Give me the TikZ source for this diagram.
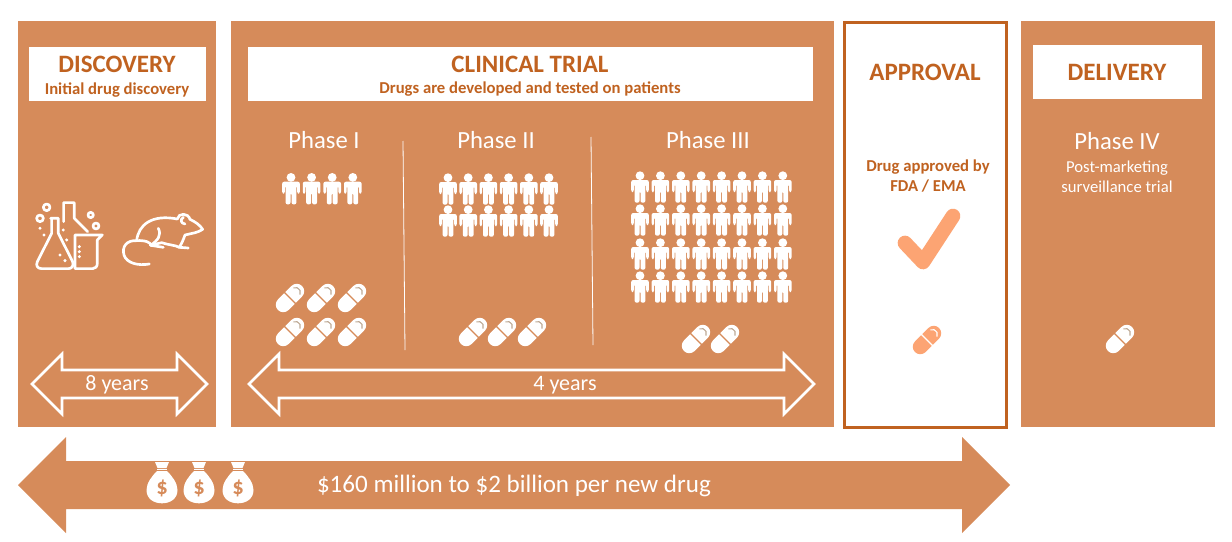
\documentclass[tikz,border=0pt]{standalone}
\usepackage{xcolor}
\usepackage{fontspec}
\setmainfont{Carlito}

\definecolor{panelorange}{RGB}{214,139,90}
\definecolor{darkorange}{RGB}{192,98,32}
\definecolor{lightorange}{RGB}{252,164,115}
\definecolor{pillshade}{RGB}{190,170,150}

\tikzset{
  panel/.style={fill=panelorange,draw=none},
  titlebox/.style={fill=white,draw=none},
  whitearrow/.style={fill=panelorange,draw=white,line width=1.9pt,line join=miter},
  icon/.style={draw=white,line width=2pt,line cap=round,line join=round},
  titletext/.style={inner sep=0.75pt,text=darkorange,font=\fontsize{18.75}{20}\selectfont\bfseries},
  subtitletext/.style={inner sep=0.75pt,text=darkorange,align=center,font=\fontsize{12.5}{15}\selectfont\bfseries},
  phasetext/.style={inner sep=0.75pt,text=white,font=\fontsize{18.5}{20}\selectfont},
  yearstext/.style={inner sep=0.75pt,text=white,font=\fontsize{16.5}{18}\selectfont},
  pics/person/.style={code={
    \begin{scope}[yscale=-1]
    \fill[white] (0,-11.3) circle (4.4);
    \fill[white,rounded corners=1.5] (-8.8,-7) -- (8.8,-7) -- (8.8,5) -- (6.2,5) -- (6.2,-3) -- (5.4,-3) -- (5.4,15.7) -- (0.5,15.7) -- (0.5,4) -- (-0.5,4) -- (-0.5,15.7) -- (-5.4,15.7) -- (-5.4,-3) -- (-6.2,-3) -- (-6.2,5) -- (-8.8,5) -- cycle;
    \end{scope}
  }},
  pics/pill/.style 2 args={code={
    \fill[#1] (-0.8,7.5) -- (-9.5,7.5) arc[start angle=90,end angle=270,radius=7.5] -- (-0.8,-7.5) -- cycle;
    \fill[#1] (0.8,7.5) -- (9.5,7.5) arc[start angle=90,end angle=-90,radius=7.5] -- (0.8,-7.5) -- cycle;
    \draw[#2,line width=0.8pt] (9.5,4.8) arc[start angle=70,end angle=-70,radius=5];
  }},
  pics/moneybag/.style={code={
    \begin{scope}[yscale=-1]
    \fill[white] (-5,-17) .. controls (-10,-12) and (-15.5,-5) .. (-15.5,2) .. controls (-15.5,11) and (-8,15.3) .. (0,15.3) .. controls (8,15.3) and (15.5,11) .. (15.5,2) .. controls (15.5,-5) and (10,-12) .. (5,-17) -- cycle;
    \fill[white] (-7,-26) -- (7,-26) -- (4.5,-20) -- (-4.5,-20) -- cycle;
    \fill[white] (-5,-19) rectangle (5,-17.6);
    \end{scope}
    \draw (0,0) node (-sign) [inner sep=0pt,text=panelorange,font=\fontsize{17}{17}\selectfont\bfseries] {\$};
  }}
}

\begin{document}
\begin{tikzpicture}[x=0.75pt,y=0.75pt,yscale=-1,xscale=1]
\useasboundingbox (0,0) rectangle (1232,542);

%Shape: Rectangle
\draw [panel] (18,21) rectangle (216,427);
%Shape: Rectangle
\draw [panel] (231,21) rectangle (834,427);
%Shape: Rectangle
\draw [fill=white,draw=darkorange,line width=2.2pt] (844.5,22.5) rectangle (1006.5,427.5);
%Shape: Rectangle
\draw [panel] (1021,21) rectangle (1215,427);
%Shape: Rectangle
\draw [titlebox] (29,47) rectangle (206,101);
%Shape: Rectangle
\draw [titlebox] (248,47) rectangle (813,101);
%Shape: Rectangle
\draw [titlebox] (1033,45) rectangle (1202,99);

%Straight Lines
\draw [white,line width=0.6pt] (403,141) -- (405,350);
\draw [white,line width=0.6pt] (591,137) -- (593,345);

%Shape: Left Right Arrow
\draw [whitearrow] (32,384) -- (62,354) -- (62,370) -- (177,370) -- (177,354) -- (207,384) -- (177,414) -- (177,398) -- (62,398) -- (62,414) -- cycle;
%Shape: Left Right Arrow
\draw [whitearrow] (249,384) -- (279,354) -- (279,370) -- (784,370) -- (784,354) -- (814,384) -- (784,414) -- (784,398) -- (279,398) -- (279,414) -- cycle;
%Shape: Left Right Arrow
\draw [panel] (18,485) -- (66,437) -- (66,461) -- (962,461) -- (962,437) -- (1010,485) -- (962,533) -- (962,509) -- (66,509) -- (66,533) -- cycle;

%Flasks
\begin{scope}[shift={(20,190)},scale=0.3333]
\draw [icon] (131,95) -- (131,38) -- (163,38) -- (163,85) -- (203,125);
\draw [icon] (92,85) -- (115,85) -- (115,130) -- (158,215) .. controls (162,228) and (155,236) .. (145,236) -- (65,236) .. controls (52,236) and (47,226) .. (52,215) -- (95,130) -- (95,85);
\draw [icon] (165,135) -- (247,135) -- (232,150) -- (232,220) .. controls (232,230) and (226,236) .. (218,236) -- (165,236) -- (165,135);
\draw [icon] (80,52) circle (10);
\draw [icon] (60,85) circle (10);
\draw [icon] (212,75) circle (8);
\draw [icon] (228,108) circle (9);
\foreach \dotx/\doty in {60/115,72/135,130/120,140/150,120/195,135/212,178/170,178/185,178/200}
  \fill [white] (\dotx,\doty) circle (5);
\end{scope}

%Mouse
\begin{scope}[shift={(20,190)},scale=0.3333]
\draw [icon] (350,152) .. controls (355,105) and (395,72) .. (472,87);
\draw [icon] (472,87) .. controls (475,68) and (505,68) .. (510,88) .. controls (525,95) and (540,105) .. (548,118) .. controls (535,128) and (515,130) .. (495,135) .. controls (490,150) and (485,160) .. (478,172) -- (505,174);
\draw [icon] (490,82) .. controls (480,88) and (482,100) .. (495,102);
\draw [icon] (478,172) .. controls (465,165) and (445,165) .. (425,158) -- (392,166) -- (430,172);
\draw [icon] (415,115) .. controls (425,135) and (415,150) .. (392,166);
\draw [icon] (350,152) .. controls (375,150) and (395,158) .. (392,166);
\draw [icon] (350,152) .. controls (320,150) and (305,170) .. (312,195) .. controls (320,220) and (355,228) .. (388,222);
\end{scope}

%People
\foreach \colx in {0,...,3}
  \pic at (291+20.6*\colx,188.7) {person};
\foreach \rowy in {189,221}
  \foreach \colx in {0,...,5}
    \pic at (448+20.2*\colx,\rowy) {person};
\foreach \rowy in {187,220,254,287}
  \foreach \colx in {0,...,7}
    \pic at (640+20.4*\colx,\rowy) {person};

%Pills
\foreach \rowy in {298,332}
  \foreach \colx in {290,321,352}
    \pic [rotate=45] at (\colx,\rowy) {pill={white}{pillshade}};
\foreach \colx in {473,502,532}
  \pic [rotate=45] at (\colx,332) {pill={white}{pillshade}};
\foreach \colx in {696,725}
  \pic [rotate=45] at (\colx,339) {pill={white}{pillshade}};
\pic [rotate=45] at (927,340) {pill={lightorange}{white}};
\pic [rotate=45] at (1120,339) {pill={white}{pillshade}};

%Check mark
\draw [lightorange,line width=11pt,line join=round,line cap=round] (905,243) -- (923,262) -- (953,216);

%Money bags
\pic (bagone) at (162,488) {moneybag};
\pic (bagtwo) at (199,488) {moneybag};
\pic (bagthree) at (238,488) {moneybag};

% Text Node
\draw (117,64.5) node (discoveryTitle) [titletext] {DISCOVERY};
% Text Node
\draw (117,90.5) node (discoveryText) [subtitletext] {Initial drug discovery};
% Text Node
\draw (530,64.5) node (clinicalTitle) [titletext] {CLINICAL TRIAL};
% Text Node
\draw (530,89.5) node (clinicalText) [subtitletext] {Drugs are developed and tested on patients};
% Text Node
\draw (925,72.5) node (approvalTitle) [titletext] {APPROVAL};
% Text Node
\draw (928,176.5) node (approvalText) [subtitletext] {Drug approved by\\FDA / EMA};
% Text Node
\draw (1117,72.5) node (deliveryTitle) [titletext] {DELIVERY};
% Text Node
\draw (324,140.5) node (phaseOne) [phasetext] {Phase I};
% Text Node
\draw (496,140.5) node (phaseTwo) [phasetext] {Phase II};
% Text Node
\draw (708,140.5) node (phaseThree) [phasetext] {Phase III};
% Text Node
\draw (1117,141.5) node (phaseFour) [phasetext] {Phase IV};
% Text Node
\draw (1117,176.5) node (deliveryText) [inner sep=0.75pt,text=white,align=center,font=\fontsize{12.5}{15}\selectfont] {Post-marketing\\surveillance trial};
% Text Node
\draw (117,384.5) node (discoveryYears) [yearstext] {8 years};
% Text Node
\draw (565,385.5) node (clinicalYears) [yearstext] {4 years};
% Text Node
\draw (514,485.5) node (costText) [inner sep=0.75pt,text=white,font=\fontsize{18.8}{20}\selectfont] {\$160 million to \$2 billion per new drug};

\end{tikzpicture}
\end{document}
